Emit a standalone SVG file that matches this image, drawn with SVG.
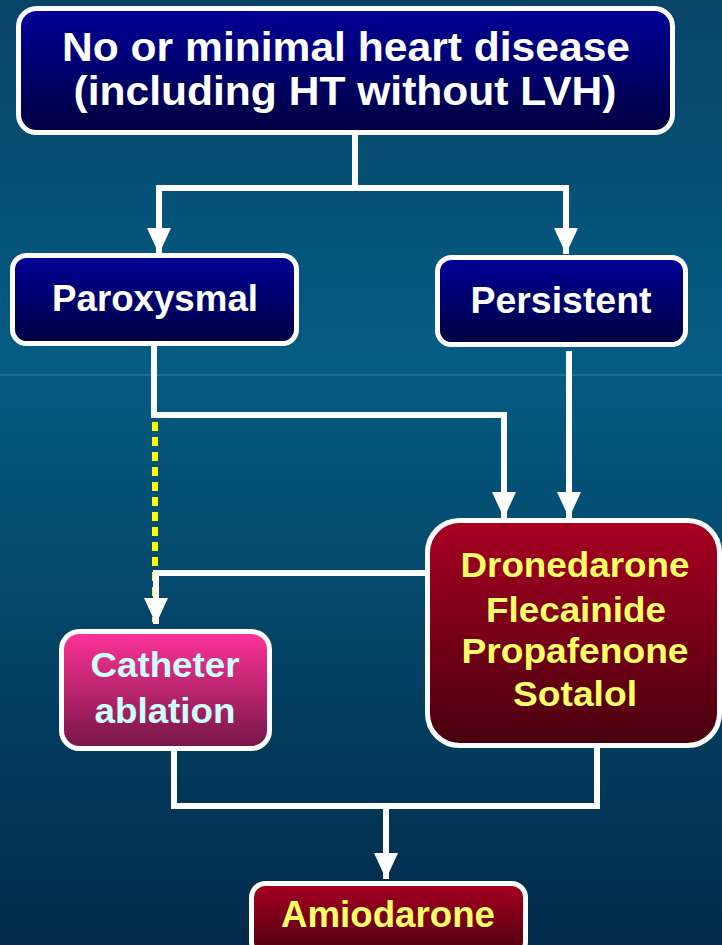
<svg xmlns="http://www.w3.org/2000/svg" width="722" height="945" viewBox="0 0 722 945">
<defs>
<linearGradient id="bgTop" x1="0" y1="0" x2="0" y2="1"><stop offset="0" stop-color="#074468"/><stop offset="1" stop-color="#055d84"/></linearGradient>
<linearGradient id="bgBot" x1="0" y1="0" x2="0" y2="1"><stop offset="0" stop-color="#055a80"/><stop offset="1" stop-color="#022a4a"/></linearGradient>
<linearGradient id="gBlue" x1="0" y1="0" x2="0" y2="1"><stop offset="0" stop-color="#000099"/><stop offset="1" stop-color="#000040"/></linearGradient>
<linearGradient id="gRed" x1="0" y1="0" x2="0" y2="1"><stop offset="0" stop-color="#a80022"/><stop offset="1" stop-color="#48000e"/></linearGradient>
<linearGradient id="gPink" x1="0" y1="0" x2="0" y2="1"><stop offset="0" stop-color="#ff3399"/><stop offset="1" stop-color="#761646"/></linearGradient>
<marker id="arr" markerUnits="userSpaceOnUse" markerWidth="26" markerHeight="24" viewBox="0 0 26 24" refX="26" refY="12" orient="auto"><path d="M0,0 L26,12 L0,24 z" fill="#fff"/></marker>
</defs>
<style>
.box{stroke:#fff;stroke-width:5}
.t{font-family:"Liberation Sans",Arial,sans-serif;font-weight:bold;text-anchor:middle}
.w{fill:#fff}
.y{fill:#ffff66}
.c{fill:#ccffff}
.ln{fill:none;stroke:#fff;stroke-width:6}
</style>
<rect x="0" y="0" width="722" height="375" fill="url(#bgTop)"/>
<rect x="0" y="375" width="722" height="570" fill="url(#bgBot)"/>
<rect x="0" y="374.5" width="722" height="1" fill="#3e7f9f"/>

<g id="connectors">
<path class="ln" d="M355,135 V188"/>
<path class="ln" d="M156,188 H567"/>
<path class="ln" d="M159,185 V254" marker-end="url(#arr)"/>
<path class="ln" d="M566,185 V254" marker-end="url(#arr)"/>
<path class="ln" d="M154,346 V415 H504 V518" marker-end="url(#arr)"/>
<path class="ln" d="M569,351 V518" marker-end="url(#arr)"/>
<path d="M155,422 V622" fill="none" stroke="#ffff00" stroke-width="6" stroke-dasharray="9,6"/>
<path class="ln" d="M427,573 H156 V624" marker-end="url(#arr)"/>
<path class="ln" d="M174,750 V806 H597 V746"/>
<path class="ln" d="M386,806 V879" marker-end="url(#arr)"/>
</g>

<g id="node-top">
<rect class="box" x="18.5" y="8.5" width="654" height="124" rx="18" fill="url(#gBlue)"/>
<text class="t w" x="346" y="61" font-size="40" textLength="568" lengthAdjust="spacingAndGlyphs">No or minimal heart disease</text>
<text class="t w" x="345" y="105" font-size="40" textLength="543" lengthAdjust="spacingAndGlyphs">(including HT without LVH)</text>
</g>
<g id="node-paroxysmal">
<rect class="box" x="12.5" y="255.5" width="284" height="88" rx="14" fill="url(#gBlue)"/>
<text class="t w" x="155" y="311" font-size="37" textLength="206" lengthAdjust="spacingAndGlyphs">Paroxysmal</text>
</g>
<g id="node-persistent">
<rect class="box" x="437.5" y="257.5" width="248" height="87" rx="14" fill="url(#gBlue)"/>
<text class="t w" x="561" y="313" font-size="37" textLength="181" lengthAdjust="spacingAndGlyphs">Persistent</text>
</g>
<g id="node-drugs">
<rect class="box" x="427.5" y="520.5" width="292" height="225" rx="32" fill="url(#gRed)"/>
<text class="t y" x="575" y="577" font-size="35" textLength="229" lengthAdjust="spacingAndGlyphs">Dronedarone</text>
<text class="t y" x="576" y="622" font-size="35" textLength="180" lengthAdjust="spacingAndGlyphs">Flecainide</text>
<text class="t y" x="575" y="663" font-size="35" textLength="227" lengthAdjust="spacingAndGlyphs">Propafenone</text>
<text class="t y" x="575" y="706" font-size="35" textLength="124" lengthAdjust="spacingAndGlyphs">Sotalol</text>
</g>
<g id="node-catheter">
<rect class="box" x="61.5" y="631.5" width="208" height="117" rx="18" fill="url(#gPink)"/>
<text class="t c" x="165" y="677" font-size="35" textLength="149" lengthAdjust="spacingAndGlyphs">Catheter</text>
<text class="t c" x="165" y="723" font-size="35" textLength="141" lengthAdjust="spacingAndGlyphs">ablation</text>
</g>
<g id="node-amiodarone">
<rect class="box" x="251.5" y="883.5" width="274" height="72" rx="14" fill="url(#gRed)"/>
<text class="t y" x="388" y="927" font-size="36" textLength="214" lengthAdjust="spacingAndGlyphs">Amiodarone</text>
</g>
</svg>
